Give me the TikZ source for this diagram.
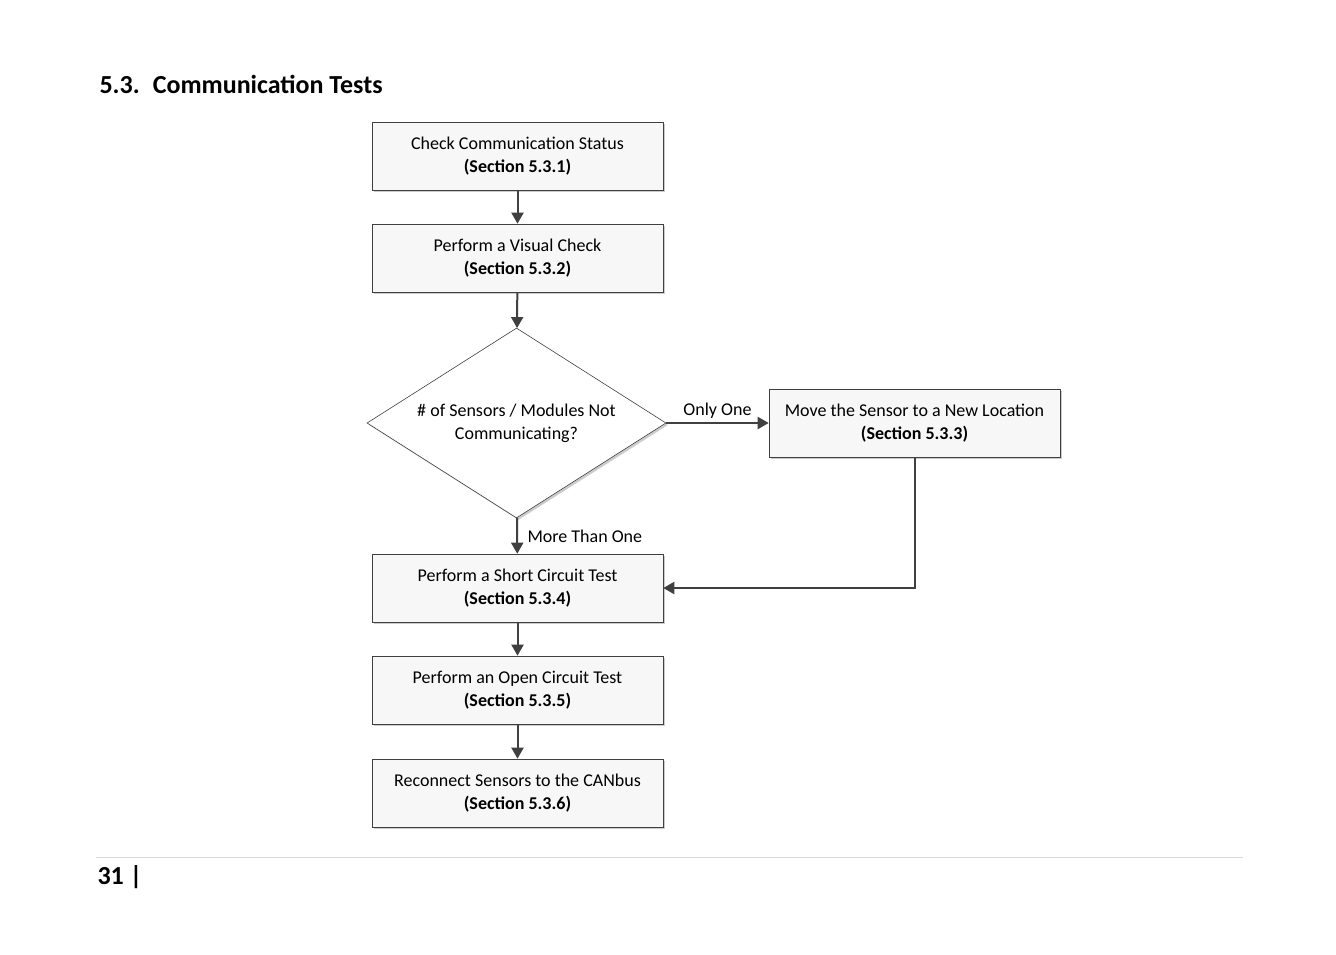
\documentclass[tikz,border=0pt]{standalone}
\usepackage{fontspec}
\setmainfont{Carlito}
\usetikzlibrary{shapes.geometric,arrows.meta,shadows}
\definecolor{ln}{HTML}{404040}
\begin{document}
\begin{tikzpicture}[x=1pt,y=-1pt,
 box/.style={draw=ln,line width=0.6pt,fill=gray!6,minimum width=291pt,minimum height=68pt,align=center,font=\fontsize{18}{23}\selectfont,
   drop shadow={shadow xshift=2pt,shadow yshift=-2pt,fill=gray!40,opacity=1}},
 dia/.style={draw=ln,line width=0.6pt,fill=white,diamond,aspect=1.57,minimum width=299pt,minimum height=190pt,inner sep=0pt,align=center,font=\fontsize{18}{23}\selectfont,
   drop shadow={shadow xshift=2pt,shadow yshift=-2pt,fill=gray!40,opacity=1}},
 arr/.style={draw=ln,line width=2pt,-{Triangle[length=11pt,width=12pt]}},
 lab/.style={font=\fontsize{18}{22}\selectfont}]
\useasboundingbox (0,0) rectangle (1336,954);
\node[anchor=base west,font=\fontsize{26}{30}\selectfont\bfseries] (title) at (96,93) {5.3.\enspace Communication Tests};
\node[box] (b1) at (517.5,156) {Check Communication Status\\\textbf{(Section 5.3.1)}};
\node[box] (b2) at (517.5,258) {Perform a Visual Check\\\textbf{(Section 5.3.2)}};
\node[dia] (d) at (516.5,423) {\# of Sensors / Modules Not\\Communicating?};
\node[box] (b3) at (914.5,423) {Move the Sensor to a New Location\\\textbf{(Section 5.3.3)}};
\node[box] (b4) at (517.5,588) {Perform a Short Circuit Test\\\textbf{(Section 5.3.4)}};
\node[box] (b5) at (517.5,690) {Perform an Open Circuit Test\\\textbf{(Section 5.3.5)}};
\node[box] (b6) at (517.5,793) {Reconnect Sensors to the CANbus\\\textbf{(Section 5.3.6)}};
\draw[arr] (b1) -- (b2);
\draw[arr] (b2) -- (d);
\draw[arr] (d) -- node[lab,above]{Only One} (b3);
\draw[arr] (d) -- node[lab,right,xshift=6pt]{More Than One} (b4);
\draw[arr] (b3.south) |- (b4.east);
\draw[arr] (b4) -- (b5);
\draw[arr] (b5) -- (b6);
\draw[gray!30,line width=0.8pt] (96,857) coordinate (l1) -- (1243,857) coordinate (l2);
\node[anchor=base west,font=\fontsize{26}{30}\selectfont\bfseries] (pg) at (94,884) {31 |};
\end{tikzpicture}
\end{document}
